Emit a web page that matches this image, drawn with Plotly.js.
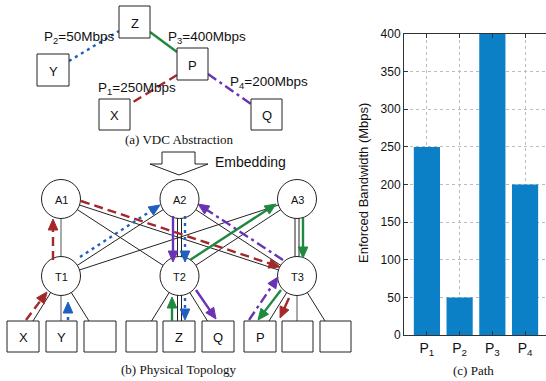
<!DOCTYPE html>
<html><head><meta charset="utf-8">
<script src="https://cdn.plot.ly/plotly-3.0.1.min.js"></script>
<style>html,body{margin:0;padding:0;background:#fff}#chart{width:546px;height:381px}</style>
</head><body><div id="chart"></div>
<script>
// ---- data ----
const paths = ['P1', 'P2', 'P3', 'P4'];
const pathLabels = ['P<sub>1</sub>', 'P<sub>2</sub>', 'P<sub>3</sub>', 'P<sub>4</sub>'];
const bandwidth = [250, 50, 400, 200];
const yTickVals = [0, 50, 100, 150, 200, 250, 300, 350, 400];
const yTitle = 'Enforced Bandwidth (Mbps)';
const captions = ['(a) VDC Abstraction', '(b) Physical Topology', '(c) Path'];

// ---- diagram layout (pixel space) ----
const W = 546, H = 381;
const px = x => x / W, py = y => 1 - y / H;
const shapes = [], annots = [];
const SANS = 'Liberation Sans, Arial, sans-serif', SERIF = 'Liberation Serif, Times New Roman, serif';
const BLK = '#222';

function line(x0, y0, x1, y1, color, width, dash) {
  shapes.push({type: 'line', xref: 'paper', yref: 'paper', x0: px(x0), y0: py(y0), x1: px(x1), y1: py(y1),
    line: {color: color, width: width, dash: dash || 'solid'}});
}
function rect(x0, y0, x1, y1) {
  shapes.push({type: 'rect', xref: 'paper', yref: 'paper', x0: px(x0), y0: py(y0), x1: px(x1), y1: py(y1),
    line: {color: BLK, width: 1}, fillcolor: '#fff'});
}
function circ(cx, cy, r) {
  shapes.push({type: 'circle', xref: 'paper', yref: 'paper', x0: px(cx - r), y0: py(cy + r), x1: px(cx + r), y1: py(cy - r),
    line: {color: BLK, width: 1}, fillcolor: '#fff'});
}
function poly(pts, color) {
  shapes.push({type: 'path', xref: 'paper', yref: 'paper', path: 'M' + pts.map(p => px(p[0]) + ',' + py(p[1])).join(' L') + ' Z',
    line: {color: color, width: 1}, fillcolor: color});
}
function text(x, y, t, size, family, anchor) {
  annots.push({xref: 'paper', yref: 'paper', x: px(x), y: py(y), text: t, showarrow: false,
    xanchor: anchor || 'center', yanchor: 'middle', font: {size: size, family: family, color: '#111'}});
}
function arrow(x0, y0, x1, y1, color, dash) {
  const dx = x1 - x0, dy = y1 - y0, L = Math.hypot(dx, dy), ux = dx / L, uy = dy / L, nx = -uy, ny = ux;
  const HL = 11, HW = 4.8;
  const bx = x1 - ux * HL, by = y1 - uy * HL;
  line(x0, y0, bx + ux * 2, by + uy * 2, color, 2.4, dash);
  poly([[x1, y1], [bx + nx * HW, by + ny * HW], [bx - nx * HW, by - ny * HW]], color);
}

// VDC abstraction
const vdcBoxes = {Z: [119, 6, 150, 38], Y: [37, 54, 69, 86], P: [177, 48, 208, 80], X: [99, 99, 130, 130], Q: [251, 99, 282, 130]};
const RED = '#a4282b', BLUE = '#1f5fbf', GREEN = '#1f8a3f', PURPLE = '#6a33b6';
line(69, 61, 119, 31, BLUE, 2.4, '3px,4px');
line(150, 32, 177, 52, GREEN, 2.4);
line(177, 75, 130, 104, RED, 2.4, '9px,5px');
line(208, 74, 251, 104, PURPLE, 2.4, '10px,4px,3px,4px');
Object.keys(vdcBoxes).forEach(k => { const b = vdcBoxes[k]; rect(b[0], b[1], b[2], b[3]); text((b[0] + b[2]) / 2, (b[1] + b[3]) / 2 + 1, k, 13, SANS); });
text(42, 37, pathLabels[1] + '=' + bandwidth[1] + 'Mbps', 13.5, SANS, 'left');
text(166, 37, pathLabels[2] + '=' + bandwidth[2] + 'Mbps', 13.5, SANS, 'left');
text(96, 89, pathLabels[0] + '=' + bandwidth[0] + 'Mbps', 13.5, SANS, 'left');
text(228, 82, pathLabels[3] + '=' + bandwidth[3] + 'Mbps', 13.5, SANS, 'left');
text(179, 139, captions[0], 13, SERIF);

// Embedding block arrow
const ea = [[162, 152], [195, 152], [195, 164], [208, 164], [179, 175], [150, 164], [162, 164]];
shapes.push({type: 'path', xref: 'paper', yref: 'paper', path: 'M' + ea.map(p => px(p[0]) + ',' + py(p[1])).join(' L') + ' Z',
  line: {color: BLK, width: 1}, fillcolor: '#fff'});
text(250, 162, 'Embedding', 14, SANS);

// Physical topology
const R = 19.5;
const nodes = {A1: [61, 199], A2: [179.5, 199], A3: [297, 199], T1: [61, 276], T2: [179.5, 276], T3: [297, 276]};
const boxes = [['X', 7, 39], ['Y', 46, 77], ['', 84, 116], ['', 126, 157], ['Z', 163, 195], ['Q', 202, 234], ['P', 244, 276], ['', 282, 313], ['', 320, 351]];
['A1', 'A2', 'A3'].forEach(a => ['T1', 'T2', 'T3'].forEach(t => {
  const A = nodes[a], T = nodes[t];
  if (a[1] === t[1]) {
    if (a === 'A1') line(A[0], A[1], T[0], T[1], '#555', 1);
    else { line(A[0] - 2, A[1], T[0] - 2, T[1], BLK, 1); line(A[0] + 2, A[1], T[0] + 2, T[1], BLK, 1); }
  } else line(A[0], A[1], T[0], T[1], BLK, 1);
}));
['T1', 'T2', 'T3'].forEach(t => {
  const T = nodes[t];
  line(T[0], T[1], T[0] - 28, 321, BLK, 1);
  if (t === 'T2') { line(T[0] - 2, T[1], T[0] - 2, 321, BLK, 1); line(T[0] + 2, T[1], T[0] + 2, 321, BLK, 1); }
  else line(T[0], T[1], T[0], 321, '#555', 1);
  line(T[0], T[1], T[0] + 28, 321, BLK, 1);
});
Object.keys(nodes).forEach(k => { const n = nodes[k]; circ(n[0], n[1], R); text(n[0], n[1] + 1, k, 11, SANS); });
boxes.forEach(b => { rect(b[1], 321, b[2], 352); if (b[0]) text((b[1] + b[2]) / 2, 337.5, b[0], 13, SANS); });
text(179, 369, captions[1], 13, SERIF);

// paths
arrow(26, 320, 47, 292, RED, '9px,5px');
arrow(53, 260, 53, 219, RED, '9px,5px');
arrow(81, 201, 280, 267, RED, '9px,5px');
arrow(289, 298, 280, 318, RED);
arrow(68, 320, 68, 302, BLUE, '3px,4px');
arrow(80, 257, 160, 205, BLUE, '3px,4px');
arrow(185, 216, 185, 262, BLUE, '3px,4px');
arrow(185, 298, 185, 320, BLUE, '3px,4px');
arrow(172, 321, 172, 297, GREEN);
arrow(190, 260, 276, 204, GREEN);
arrow(303, 218, 303, 258, GREEN);
arrow(281, 290, 258, 320, GREEN);
arrow(249, 320, 278, 277, PURPLE, '10px,4px,3px,4px');
arrow(283, 260, 198, 204, PURPLE, '10px,4px,3px,4px');
arrow(173, 216, 173, 262, PURPLE);
arrow(196, 290, 216, 319, PURPLE);

// bar chart labels
annots.push({xref: 'paper', yref: 'paper', x: px(363), y: py(183), text: yTitle, textangle: -90, showarrow: false,
  xanchor: 'center', yanchor: 'middle', font: {size: 13, family: SANS, color: '#111'}});
text(473, 370, captions[2], 13, SERIF);

const trace = {type: 'bar', x: paths, y: bandwidth, width: 0.8, marker: {color: '#0c80c6', line: {width: 0}}, hoverinfo: 'skip'};
const layout = {
  width: W, height: H, margin: {l: 0, r: 0, t: 0, b: 0}, paper_bgcolor: '#fff', plot_bgcolor: '#fff', showlegend: false,
  xaxis: {domain: [404 / W, 1], range: [-0.7, 3.64], tickvals: paths, ticktext: pathLabels, tickfont: {size: 14, family: SANS, color: '#111'},
    showline: true, linecolor: '#333', linewidth: 1, mirror: 'ticks', ticks: 'inside', ticklen: 4, tickcolor: '#333',
    showgrid: true, gridcolor: '#bbb', griddash: 'dot', gridwidth: 1, zeroline: false, fixedrange: true},
  yaxis: {domain: [1 - 335 / H, 1 - 34 / H], range: [0, 400], tickvals: yTickVals, tickfont: {size: 12, family: SANS, color: '#111'},
    showline: true, linecolor: '#333', linewidth: 1, ticks: 'inside', ticklen: 4, tickcolor: '#333',
    showgrid: true, gridcolor: '#bbb', griddash: 'dot', gridwidth: 1, zeroline: false, fixedrange: true},
  shapes: shapes, annotations: annots
};
Plotly.newPlot('chart', [trace], layout, {staticPlot: true, displayModeBar: false});
</script></body></html>
